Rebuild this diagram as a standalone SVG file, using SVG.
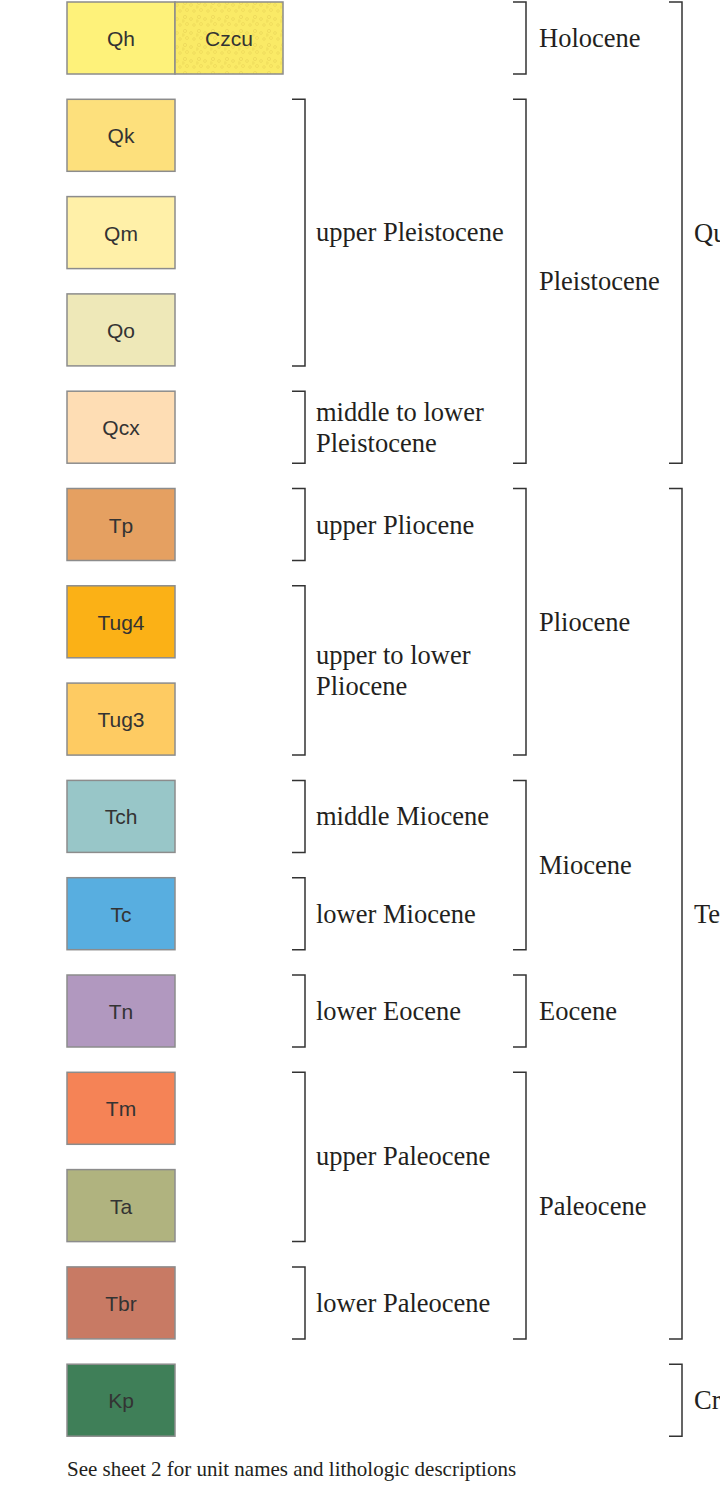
<svg xmlns="http://www.w3.org/2000/svg" width="720" height="1502" viewBox="0 0 720 1502">
<style>
.box{stroke:#8c8c8c;stroke-width:1.5}
.lbl{font-family:"Liberation Sans",Arial,sans-serif;font-size:21px;fill:#333;text-anchor:middle}
.t{font-family:"Liberation Serif","Times New Roman",serif;font-size:26.5px;fill:#231f20}
.br{fill:none;stroke:#333;stroke-width:1.5}
.note{font-family:"Liberation Serif","Times New Roman",serif;font-size:21px;fill:#231f20}
</style>
<defs>
<pattern id="dots" width="14" height="14" patternUnits="userSpaceOnUse">
<rect width="14" height="14" fill="#FAEA66"/>
<g fill="none" stroke="#DCC24A" stroke-width="0.6" opacity="0.6">
<circle cx="3" cy="3" r="1.6"/><circle cx="9" cy="5" r="1.4"/><circle cx="5" cy="10" r="1.5"/><circle cx="12" cy="11" r="1.3"/><circle cx="1" cy="7" r="1.2"/>
</g>
</pattern>
</defs>
<rect width="720" height="1502" fill="#fff"/>
<g id="Qh"><rect class="box" x="67" y="2" width="108" height="72" fill="#FEF27A"/><text class="lbl" x="121" y="46">Qh</text></g>
<g id="Czcu"><rect class="box" x="175" y="2" width="108" height="72" fill="url(#dots)"/><text class="lbl" x="229" y="46">Czcu</text></g>
<g id="Qk"><rect class="box" x="67" y="99.3" width="108" height="72" fill="#FDE07C"/><text class="lbl" x="121" y="143.3">Qk</text></g>
<g id="Qm"><rect class="box" x="67" y="196.6" width="108" height="72" fill="#FFF0A8"/><text class="lbl" x="121" y="240.6">Qm</text></g>
<g id="Qo"><rect class="box" x="67" y="293.9" width="108" height="72" fill="#EEE8B8"/><text class="lbl" x="121" y="337.9">Qo</text></g>
<g id="Qcx"><rect class="box" x="67" y="391.2" width="108" height="72" fill="#FEDDB4"/><text class="lbl" x="121" y="435.2">Qcx</text></g>
<g id="Tp"><rect class="box" x="67" y="488.5" width="108" height="72" fill="#E5A061"/><text class="lbl" x="121" y="532.5">Tp</text></g>
<g id="Tug4"><rect class="box" x="67" y="585.8" width="108" height="72" fill="#FBB116"/><text class="lbl" x="121" y="629.8">Tug4</text></g>
<g id="Tug3"><rect class="box" x="67" y="683.1" width="108" height="72" fill="#FECB62"/><text class="lbl" x="121" y="727.1">Tug3</text></g>
<g id="Tch"><rect class="box" x="67" y="780.4" width="108" height="72" fill="#98C6C8"/><text class="lbl" x="121" y="824.4">Tch</text></g>
<g id="Tc"><rect class="box" x="67" y="877.7" width="108" height="72" fill="#58AEE0"/><text class="lbl" x="121" y="921.7">Tc</text></g>
<g id="Tn"><rect class="box" x="67" y="975" width="108" height="72" fill="#B198BF"/><text class="lbl" x="121" y="1019">Tn</text></g>
<g id="Tm"><rect class="box" x="67" y="1072.3" width="108" height="72" fill="#F58356"/><text class="lbl" x="121" y="1116.3">Tm</text></g>
<g id="Ta"><rect class="box" x="67" y="1169.6" width="108" height="72" fill="#B0B37F"/><text class="lbl" x="121" y="1213.6">Ta</text></g>
<g id="Tbr"><rect class="box" x="67" y="1266.9" width="108" height="72" fill="#C87A64"/><text class="lbl" x="121" y="1310.9">Tbr</text></g>
<g id="Kp"><rect class="box" x="67" y="1364.2" width="108" height="72" fill="#3F7F58"/><text class="lbl" x="121" y="1408.2">Kp</text></g>
<g id="connectors">
<path class="br" d="M292,99.3H305V366H292"/>
<path class="br" d="M292,391.2H305V463.2H292"/>
<path class="br" d="M292,488.5H305V560.5H292"/>
<path class="br" d="M292,585.8H305V755.1H292"/>
<path class="br" d="M292,780.4H305V852.4H292"/>
<path class="br" d="M292,877.7H305V949.7H292"/>
<path class="br" d="M292,975H305V1047H292"/>
<path class="br" d="M292,1072.3H305V1241.6H292"/>
<path class="br" d="M292,1266.9H305V1338.9H292"/>
<path class="br" d="M513,2H526V74H513"/>
<path class="br" d="M513,99.3H526V463.2H513"/>
<path class="br" d="M513,488.5H526V755.1H513"/>
<path class="br" d="M513,780.4H526V949.7H513"/>
<path class="br" d="M513,975H526V1047H513"/>
<path class="br" d="M513,1072.3H526V1338.9H513"/>
<path class="br" d="M669,2H682V463.2H669"/>
<path class="br" d="M669,488.5H682V1338.9H669"/>
<path class="br" d="M669,1364.2H682V1436.2H669"/>
</g>
<g id="labels">
<text class="t" x="316" y="241">upper Pleistocene</text>
<text class="t" x="316" y="420.5">middle to lower</text>
<text class="t" x="316" y="451.5">Pleistocene</text>
<text class="t" x="316" y="533.5">upper Pliocene</text>
<text class="t" x="316" y="664">upper to lower</text>
<text class="t" x="316" y="695">Pliocene</text>
<text class="t" x="316" y="825.4">middle Miocene</text>
<text class="t" x="316" y="922.7">lower Miocene</text>
<text class="t" x="316" y="1020">lower Eocene</text>
<text class="t" x="316" y="1165">upper Paleocene</text>
<text class="t" x="316" y="1311.9">lower Paleocene</text>
<text class="t" x="539" y="47">Holocene</text>
<text class="t" x="539" y="290.3">Pleistocene</text>
<text class="t" x="539" y="630.8">Pliocene</text>
<text class="t" x="539" y="874">Miocene</text>
<text class="t" x="539" y="1020">Eocene</text>
<text class="t" x="539" y="1214.6">Paleocene</text>
<text class="t" x="694" y="241.6">Quaternary</text>
<text class="t" x="694" y="922.7">Tertiary</text>
<text class="t" x="694" y="1409.2">Cretaceous</text>
</g>
<text class="note" x="67" y="1476">See sheet 2 for unit names and lithologic descriptions</text>
</svg>
